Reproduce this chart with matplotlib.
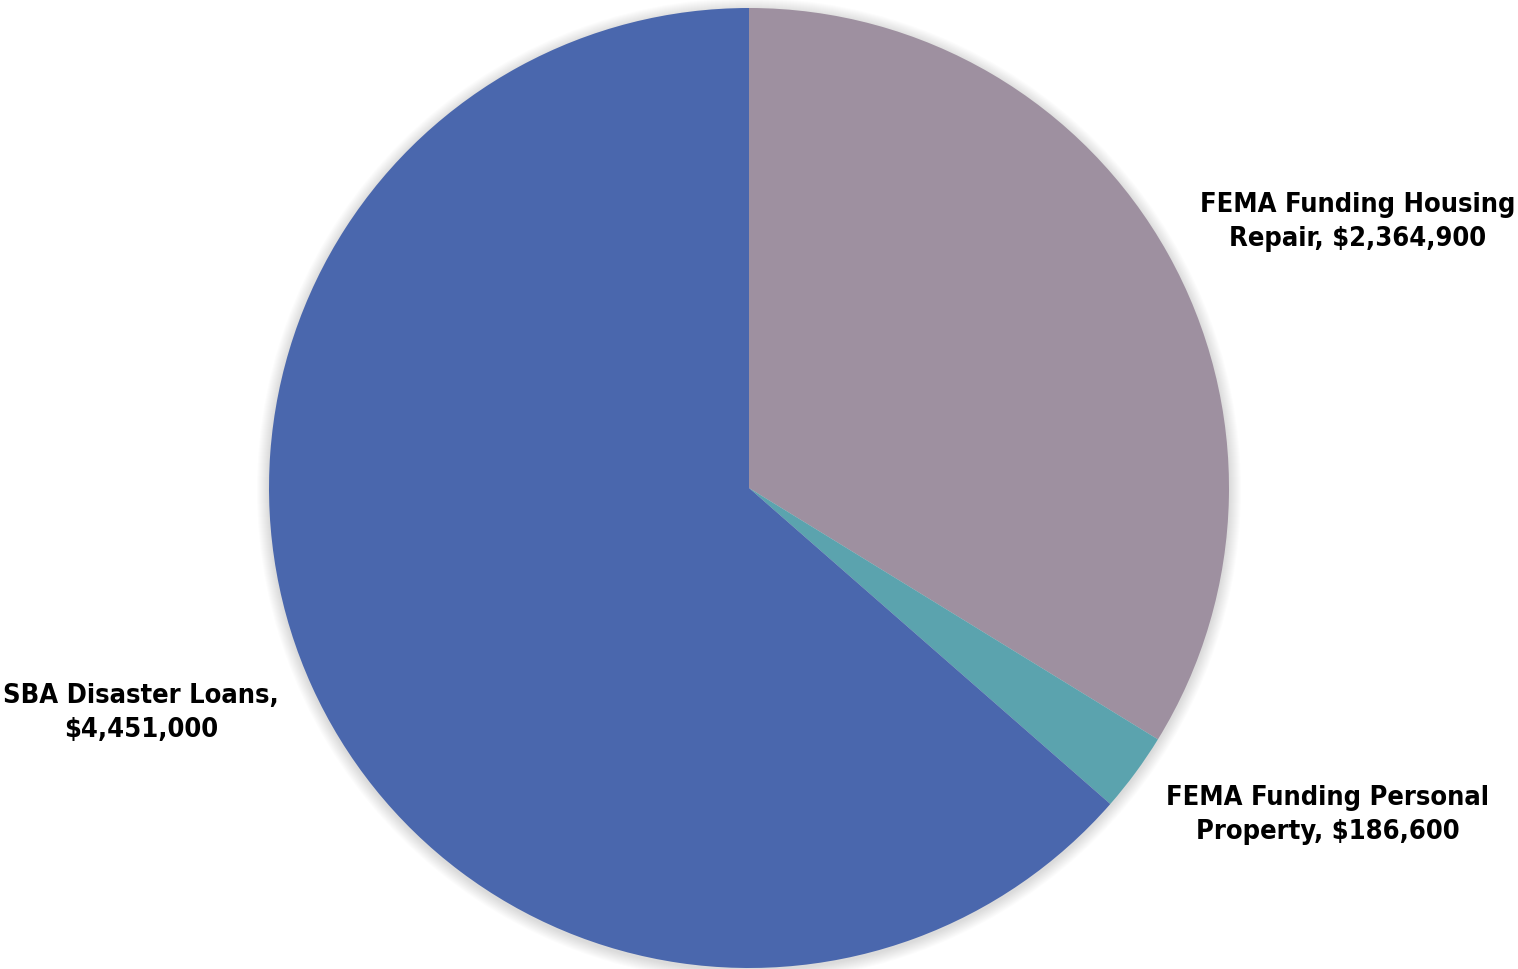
import matplotlib
matplotlib.use("Agg")
import matplotlib.pyplot as plt
from matplotlib.patches import Circle
from matplotlib import font_manager

labels = ["FEMA Funding Housing\nRepair, $2,364,900",
          "FEMA Funding Personal\nProperty, $186,600",
          "SBA Disaster Loans,\n$4,451,000"]
values = [2364900, 186600, 4451000]
colors = ["#9E90A0", "#5BA3AE", "#4A67AD"]

W, H = 1518, 969
fig = plt.figure(figsize=(W / 100, H / 100), dpi=100)
ax = fig.add_axes([0, 0, 1, 1])

cx, cy, r = 749, H - 488, 480

# soft shadow around the pie
for i in range(12, 0, -1):
    ax.add_patch(Circle((cx, cy - 2), r + i, color="#000000", alpha=0.012, lw=0))

ax.pie(values, colors=colors, startangle=90, counterclock=False,
       center=(cx, cy), radius=r, frame=True,
       wedgeprops=dict(linewidth=0))
ax.set_xlim(0, W)
ax.set_ylim(0, H)
ax.set_aspect("equal")
ax.axis("off")

names = {f.name for f in font_manager.fontManager.ttflist}
font = "Liberation Sans Narrow" if "Liberation Sans Narrow" in names else "DejaVu Sans"
stretch = "normal" if font == "Liberation Sans Narrow" else "condensed"
label_pos = [(1358, 222), (1328, 815), (141, 713)]
for lab, (x, y) in zip(labels, label_pos):
    ax.text(x, H - y, lab, ha="center", va="center", fontsize=19.5,
            fontweight="bold", family=font, fontstretch=stretch,
            linespacing=1.42)

fig.savefig("out.png", dpi=100)
